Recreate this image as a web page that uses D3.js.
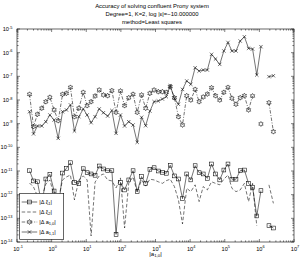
<!DOCTYPE html>
<html>
<head>
<meta charset="utf-8">
<script src="https://cdn.jsdelivr.net/npm/d3@7"></script>
<style>
body { margin: 0; background: #fff; }
svg text { font-family: "Liberation Sans", Arial, sans-serif; fill: #000; }
</style>
</head>
<body>
<svg id="chart"></svg>
<script>
const width = 302, height = 266
const margin = {top: 29, right: 8, bottom: 24, left: 17}

// |a_{1,0}| sample positions
const xVals = [0.23, 0.30, 0.39, 0.52, 0.68, 0.89, 1.18, 1.55, 2.07, 2.68,
    3.49, 4.56, 6.11, 8.19, 10.6, 13.8, 18.0, 23.7, 31.4, 41.5,
    55.0, 72.6, 97.4, 128, 169, 225, 296, 396, 521, 689,
    911, 1205, 1582, 2051, 2660, 3516, 4592, 6026, 7973, 10476,
    13950, 18200, 23900, 31400, 41550, 54200, 71700, 94200, 1.24e5, 1.61e5,
    2.11e5, 2.79e5, 3.69e5, 4.87e5, 6.36e5, 8.41e5, 1.11e6, 1.45e6, 1.89e6, 2.54e6]

const xi1 = [1.03e-11, 3.8e-12, 3.5e-12, 3.7e-13, 4.6e-12, 7.3e-12, 1.43e-12, 2.25e-13, 8.2e-12, 1.3e-11,
    2.24e-11, 3.3e-12, 3.0e-12, 1.25e-11, 8.5e-12, 7.5e-12, 6.6e-12, 1.63e-11, 1.22e-11, 1.03e-11,
    1.03e-11, 2.1e-14, 3.3e-12, 1.58e-12, 4.2e-12, 1.03e-11, 1.34e-12, 5.8e-12, 3.0e-12, 1.18e-11,
    1.38e-11, 1.0e-11, 8.8e-12, 8.0e-12, 1.75e-11, 6.2e-12, 4.6e-12, 6.8e-13, 7.5e-12, 4.2e-12,
    1.68e-11, 8.5e-12, 7.5e-12, 4.9e-12, 1.98e-11, 7.5e-12, 4.2e-12, 1.1e-11, 1.98e-11, 4.5e-12,
    4.5e-12, 1.03e-11, 1.1e-11, 3.0e-12, 2.05e-12, 1.26e-13, 1.48e-12, null, 4.9e-14, 3.9e-14]

const xi2 = [3.1e-12, 2.1e-12, 8.8e-13, 7.2e-13, 2.8e-12, 4.2e-12, 8.8e-13, 6.0e-13, 4.2e-12, 5.6e-12,
    6.8e-12, 6.0e-13, 4.2e-12, 6.2e-12, 4.2e-12, 1.8e-14, 3.4e-12, 6.2e-12, 7.5e-12, 4.2e-12,
    3.8e-12, 1.92e-12, 5.1e-12, 3.9e-14, 3.1e-12, 5.6e-12, 1.3e-12, 4.2e-12, 2.3e-12, 4.5e-12,
    4.2e-12, 3.5e-12, 3.0e-12, 3.9e-12, 4.5e-12, 2.2e-12, 6.0e-13, 5.8e-14, 1.86e-12, 1.34e-12,
    2.6e-12, 5.1e-13, 2.2e-12, 1.58e-12, 3.5e-12, 3.0e-12, 2.6e-12, 4.5e-12, 6.8e-12, 1.86e-12,
    1.34e-12, 1.58e-12, 3.0e-12, 5.1e-13, 3.0e-12, 4.8e-14, null, null, 2.6e-12, 4.3e-13]

const a10 = [1.74e-8, 7.6e-10, 2.5e-9, 4.5e-9, 8.5e-9, 1.3e-8, 3.8e-9, 1.34e-9, 1.74e-8, 1.92e-8,
    3.4e-8, 1.97e-9, 4.5e-9, 2.1e-8, 5.8e-9, 8.5e-9, 1.48e-8, 2.65e-8, 1.63e-8, 1.52e-8,
    2.5e-8, 3.0e-9, 2.4e-8, 5.8e-9, 1.25e-8, 1.74e-8, 3.0e-9, 1.63e-8, 4.5e-9, 1.92e-8,
    2.65e-8, 2.24e-8, 2.24e-8, 2.1e-8, 3.65e-8, 1.25e-8, 1.97e-9, 8.8e-10, 1.52e-8, 1.0e-8,
    2.8e-8, 8.5e-9, 1.34e-8, 1.79e-8, 3.3e-8, 1.52e-8, 1.0e-8, 2.1e-8, 3.4e-8, 1.18e-8,
    6.6e-9, 1.25e-8, 1.52e-8, 3.8e-9, 1.48e-8, null, 9.7e-10, null, 7.7e-9, 4.6e-10]

const a11 = [3.2e-9, 3.7e-10, 8.0e-10, 8.0e-10, 1.21e-9, 2.33e-9, 1.43e-9, 2.4e-10, 3.2e-9, 3.8e-9,
    6.2e-9, 4.9e-10, 1.97e-9, 4.2e-9, 2.33e-9, 1.1e-9, 1.97e-9, 4.2e-9, 2.9e-9, 2.1e-9,
    3.6e-9, 3.9e-10, 2.33e-9, 8.0e-10, 1.21e-9, 8.8e-10, 1.63e-10, 1.86e-9, 8.2e-10, 3.4e-9,
    8.5e-9, 9.1e-9, 1.1e-8, 1.38e-8, 4.0e-8, 1.18e-8, 6.6e-9, 2.8e-8, 6.4e-8, 4.6e-8,
    2.3e-7, 1.68e-7, 1.85e-7, 1.85e-7, 8.5e-7, 5.4e-7, 3.2e-7, 1.18e-6, 2.7e-6, 1.18e-6,
    1.18e-6, 3.1e-6, 4.7e-6, 1.53e-6, 1.43e-6, 1.14e-7, 1.79e-6, null, 9.7e-8, 1.06e-7]

const xTickExps = [-1, 0, 1, 2, 3, 4, 5, 6, 7]
const yTickExps = [-14, -13, -12, -11, -10, -9, -8, -7, -6, -5]
const titleLines = ["Accuracy of solving confluent Prony system",
    "Degree=1, K=2, log |\u03b5|=\u221210.000000",
    "method=Least squares"]

const series = [
    {name: "\u03be", sub: "1", values: xi1, dash: null, marker: "square"},
    {name: "\u03be", sub: "2", values: xi2, dash: "3.5,2", marker: null},
    {name: "a", sub: "1,0", values: a10, dash: "3.5,1.5,1,1.5", marker: "hexagram"},
    {name: "a", sub: "1,1", values: a11, dash: null, marker: "x"},
]

const svg = d3.select("svg#chart")
    .attr("width", width)
    .attr("height", height)
    .attr("viewBox", [0, 0, width, height])

const xScale = d3.scaleLog()
    .domain([1e-1, 1e7])
    .range([margin.left, width - margin.right])

const yScale = d3.scaleLog()
    .domain([1e-14, 1e-5])
    .range([height - margin.bottom, margin.top])

const x0 = margin.left, x1 = width - margin.right
const y0 = height - margin.bottom, y1 = margin.top

function isMajor(v) {
    return Math.abs(Math.log10(v) - Math.round(Math.log10(v))) < 1e-6
}

// ticks, drawn inward on all four sides
const ticks = svg.append("g").attr("stroke", "#000").attr("stroke-width", 0.5)
for (const t of xScale.ticks()) {
    const len = isMajor(t) ? 3 : 1.6
    const px = xScale(t)
    ticks.append("line").attr("x1", px).attr("x2", px).attr("y1", y0).attr("y2", y0 - len)
    ticks.append("line").attr("x1", px).attr("x2", px).attr("y1", y1).attr("y2", y1 + len)
}
for (const t of yScale.ticks()) {
    const len = isMajor(t) ? 3 : 1.6
    const py = yScale(t)
    ticks.append("line").attr("x1", x0).attr("x2", x0 + len).attr("y1", py).attr("y2", py)
    ticks.append("line").attr("x1", x1).attr("x2", x1 - len).attr("y1", py).attr("y2", py)
}

function powerLabel(sel) {
    sel.each(function (d) {
        const t = d3.select(this)
        t.append("tspan").text("10")
        t.append("tspan").attr("dy", -2.5).attr("font-size", 3.9).text(d)
    })
}

// tick labels
svg.append("g").selectAll("text")
    .data(xTickExps)
    .join("text")
    .attr("x", d => xScale(Math.pow(10, d)) + 1)
    .attr("y", y0 + 8.5)
    .attr("text-anchor", "middle")
    .attr("font-size", 5.6)
    .call(powerLabel)

svg.append("g").selectAll("text")
    .data(yTickExps)
    .join("text")
    .attr("x", 12.4)
    .attr("y", d => yScale(Math.pow(10, d)) + 2.1)
    .attr("text-anchor", "end")
    .attr("font-size", 5.6)
    .call(powerLabel)

// title
svg.append("g").selectAll("text")
    .data(titleLines)
    .join("text")
    .attr("x", 152)
    .attr("y", (d, i) => 8 + i * 8.2)
    .attr("text-anchor", "middle")
    .attr("font-size", 5.9)
    .text(d => d)

// x label
const xl = svg.append("text")
    .attr("x", (x0 + x1) / 2)
    .attr("y", 255.5)
    .attr("text-anchor", "middle")
    .attr("font-size", 6)
xl.append("tspan").text("|a")
xl.append("tspan").attr("dy", 1.5).attr("font-size", 4.3).text("1,0")
xl.append("tspan").attr("dy", -1.5).text("|")

function hexagram(r) {
    const pts = []
    for (let k = 0; k < 12; k++) {
        const a = -Math.PI / 2 + k * Math.PI / 6
        const rr = k % 2 === 0 ? r : r * 0.577
        pts.push([rr * Math.cos(a), rr * Math.sin(a)])
    }
    return "M" + pts.map(p => p[0].toFixed(2) + "," + p[1].toFixed(2)).join("L") + "Z"
}

function drawMarker(g, type, px, py) {
    if (type === "square") {
        g.append("rect").attr("x", px - 1.9).attr("y", py - 1.9)
            .attr("width", 3.8).attr("height", 3.8)
    } else if (type === "hexagram") {
        g.append("path").attr("d", hexagram(2.5)).attr("transform", `translate(${px},${py})`)
    } else if (type === "x") {
        const s = 1.7
        g.append("path").attr("d", `M${px - s},${py - s}L${px + s},${py + s}M${px - s},${py + s}L${px + s},${py - s}`)
    }
}

const line = d3.line()
    .defined(d => d[1] != null)
    .x(d => xScale(d[0]))
    .y(d => yScale(d[1]))

const plot = svg.append("g")
for (const s of series) {
    const pts = xVals.map((x, i) => [x, s.values[i]])
    plot.append("path")
        .attr("d", line(pts))
        .attr("fill", "none")
        .attr("stroke", "#000")
        .attr("stroke-width", 0.55)
        .attr("stroke-dasharray", s.dash)
    if (s.marker) {
        const mg = plot.append("g").attr("fill", "none").attr("stroke", "#000").attr("stroke-width", 0.55)
        for (const p of pts) {
            if (p[1] == null) continue
            drawMarker(mg, s.marker, xScale(p[0]), yScale(p[1]))
        }
    }
}

// axes box
svg.append("rect")
    .attr("x", x0).attr("y", y1)
    .attr("width", x1 - x0).attr("height", y0 - y1)
    .attr("fill", "none").attr("stroke", "#000").attr("stroke-width", 0.6)

// legend
const legend = svg.append("g").attr("transform", "translate(19.7,193.3)")
legend.append("rect")
    .attr("width", 44).attr("height", 46)
    .attr("fill", "#fff").attr("stroke", "#000").attr("stroke-width", 0.6)
series.forEach((s, i) => {
    const ly = 8.7 + i * 10
    legend.append("line")
        .attr("x1", 2).attr("x2", 17.5).attr("y1", ly).attr("y2", ly)
        .attr("stroke", "#000").attr("stroke-width", 0.55)
        .attr("stroke-dasharray", s.dash)
    if (s.marker) {
        const mg = legend.append("g").attr("fill", "none").attr("stroke", "#000").attr("stroke-width", 0.55)
        drawMarker(mg, s.marker, 9.8, ly)
    }
    const t = legend.append("text").attr("x", 19.5).attr("y", ly + 1.8).attr("font-size", 5.6)
    t.append("tspan").text("|\u0394 " + s.name)
    t.append("tspan").attr("dy", 1.6).attr("font-size", 4).text(s.sub)
    t.append("tspan").attr("dy", -1.6).text("|")
})
</script>
</body>
</html>
